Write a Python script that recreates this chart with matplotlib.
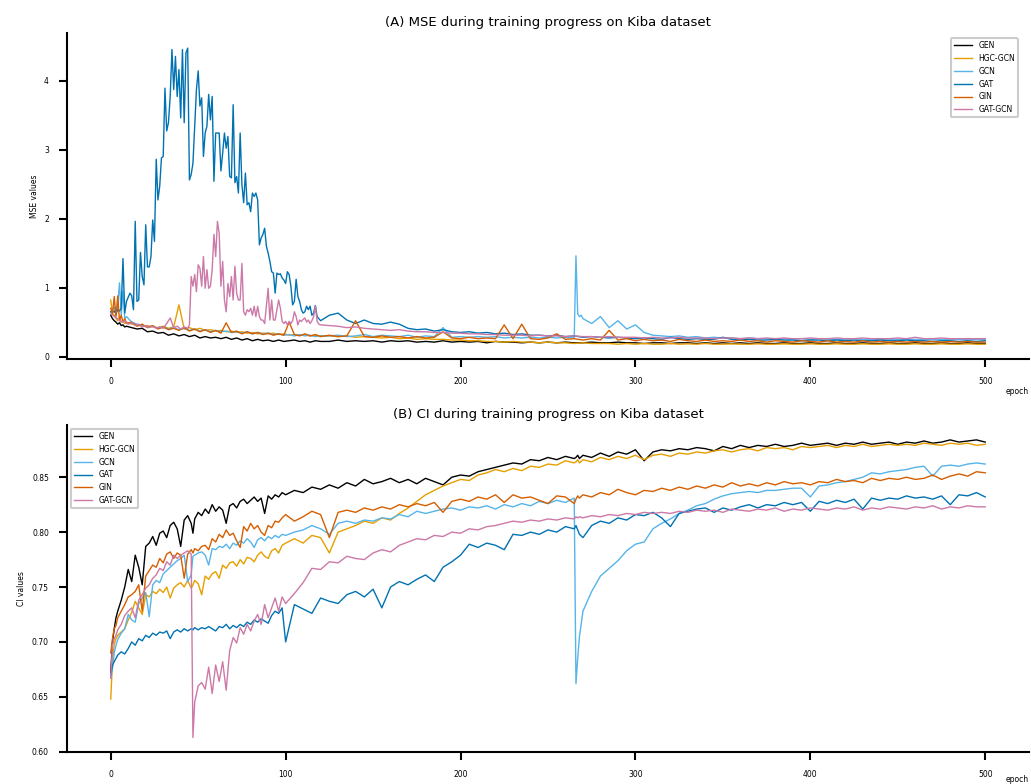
import matplotlib
matplotlib.use("Agg")
import matplotlib.pyplot as plt

MODELS = ["GEN", "HGC-GCN", "GCN", "GAT", "GIN", "GAT-GCN"]
COLORS = ["#000000", "#E69F00", "#56B4E9", "#0072B2", "#D55E00", "#CC79A7"]

# ---------------- MSE panel data ----------------
MSE_EPOCHS_LOW = list(range(0, 10)) + list(range(12, 121, 3)) + list(range(125, 501, 5))
MSE_EPOCHS_GCN = (list(range(0, 10)) + list(range(12, 121, 3)) + list(range(125, 266, 5))
                  + [266, 267, 268, 269] + list(range(270, 501, 5)))
MSE_EPOCHS_GAT = list(range(0, 120)) + list(range(120, 501, 5))
MSE_EPOCHS_GATGCN = list(range(0, 45, 2)) + list(range(45, 121)) + list(range(125, 501, 5))

mse_gen = [.60, .55, .52, .50, .47, .49, .45, .46, .43, .44,
           .42, .40, .41, .36, .37, .34, .35, .31, .33, .30,
           .32, .29, .31, .27, .29, .27, .28, .26, .28, .25,
           .27, .24, .26, .23, .25, .23, .24, .22, .24, .22,
           .23, .24, .22, .23, .21, .23, .22,
           .22, .24, .22, .23, .22, .23, .21, .23, .22, .23,
           .21, .22, .21, .23, .21, .22, .21, .22, .20, .22,
           .21, .21, .20, .21, .20, .21, .20, .21, .20, .20,
           .21, .20, .20, .21, .20, .20, .19, .20, .20, .19,
           .20, .20, .19, .20, .19, .20, .19, .20, .19, .20,
           .19, .19, .20, .19, .19, .20, .19, .19, .20, .19,
           .19, .20, .19, .19, .20, .19, .19, .20, .19, .19,
           .20, .19, .19, .20, .19, .19]

mse_hgc = [.82, .62, .60, .55, .52, .56, .50, .52, .48, .50,
           .47, .46, .44, .45, .43, .42, .44, .41, .43, .75,
           .40, .42, .39, .41, .38, .39, .37, .38, .36, .37,
           .35, .36, .34, .35, .33, .34, .33, .34, .32, .33,
           .31, .32, .31, .32, .30, .31, .30,
           .30, .29, .30, .28, .29, .28, .27, .28, .26, .27,
           .25, .26, .25, .25, .24, .24, .23, .23, .22, .22,
           .21, .22, .21, .21, .20, .21, .20, .20, .19, .20,
           .19, .19, .19, .18, .19, .18, .19, .18, .18, .19,
           .18, .185, .18, .19, .18, .18, .185, .18, .18, .185,
           .18, .18, .185, .18, .18, .185, .18, .18, .185, .18,
           .18, .185, .18, .18, .185, .18, .18, .185, .18, .18,
           .185, .18, .18, .185, .18, .18]

mse_gcn = [.65, .68, .72, .60, .75, 1.07, .60, .95, .55, .58,
           .50, .47, .45, .43, .44, .41, .43, .40, .42, .39,
           .41, .38, .40, .37, .39, .36, .38, .36, .37, .35,
           .36, .34, .36, .33, .35, .33, .34, .32, .33, .31,
           .32, .30, .32, .30, .31, .29, .30,
           .30, .31, .29, .30, .32, .29, .31, .30, .29, .31,
           .28, .30, .29, .42, .28, .29, .28, .29, .28, .29,
           .27, .28, .27, .28, .27, .28, .27, .28, .27,
           1.46, .62, .58, .60,
           .55, .48, .58, .42, .52, .40, .46, .35, .31, .30,
           .29, .30, .28, .29, .27, .28, .27, .27, .26, .27,
           .26, .26, .26, .26, .25, .26, .25, .26, .25, .25,
           .25, .26, .25, .25, .25, .25, .25, .25, .25, .25,
           .25, .25, .25, .25, .25, .25, .25]

mse_gat = [.65, .64, .66, .62, .68, .66, .70, 1.42, .63, .80,
           .86, .92, .88, .68, 1.96, .80, .82, 1.51, 1.16, 1.04,
           1.91, 1.30, 1.30, 1.45, 1.98, 1.67, 2.86, 2.27, 2.47, 2.88,
           2.90, 3.89, 3.27, 3.39, 3.77, 4.45, 3.87, 4.35, 3.77, 4.16,
           3.46, 4.45, 3.39, 4.40, 4.47, 2.56, 2.64, 2.80, 3.34, 3.87,
           4.14, 3.63, 3.75, 2.90, 3.24, 3.34, 3.80, 3.43, 3.77, 2.54,
           3.24, 3.24, 3.24, 2.69, 2.95, 3.24, 3.02, 3.19, 2.61, 2.59,
           3.65, 2.52, 2.61, 2.37, 3.24, 2.49, 2.23, 2.66, 2.20, 2.23,
           2.10, 2.37, 2.32, 2.37, 2.27, 1.62, 1.72, 1.77, 1.86, 1.60,
           1.50, 1.38, 1.23, 1.21, 0.92, 1.21, 1.19, 1.20, 1.14, 1.11,
           1.06, 1.23, 1.19, 1.02, 0.75, 0.80, 1.12, 0.87, 0.80, 0.68,
           0.63, 0.65, 0.73, 0.68, 0.73, 0.60, 0.63, 0.74, 0.58, 0.55,
           .52, .60, .63, .53, .48, .53, .48, .47, .50, .47,
           .41, .39, .40, .37, .39, .36, .35, .36, .34, .35,
           .33, .34, .32, .33, .31, .31, .30, .31, .29, .30,
           .28, .29, .28, .27, .28, .27, .26, .27, .26, .25,
           .28, .26, .25, .26, .25, .25, .28, .25, .24, .25,
           .24, .24, .25, .24, .24, .23, .24, .24, .23, .24,
           .23, .24, .23, .23, .24, .23, .23, .24, .23, .23,
           .22, .23, .23, .22, .23, .22, .23]

mse_gin = [.70, .62, .87, .58, .88, .52, .60, .50, .55, .48,
           .50, .44, .47, .42, .45, .40, .43, .39, .41, .38,
           .42, .37, .40, .36, .39, .35, .38, .34, .49, .35,
           .37, .33, .36, .33, .35, .32, .34, .31, .33, .31,
           .50, .32, .30, .33, .30, .32, .29,
           .31, .29, .30, .52, .29, .28, .30, .28, .29, .27,
           .29, .27, .28, .36, .27, .26, .28, .26, .27, .26,
           .46, .26, .47, .26, .25, .27, .33, .25, .26, .24,
           .26, .24, .38, .24, .26, .23, .25, .23, .24, .22,
           .25, .23, .22, .24, .22, .23, .22, .24, .22, .23,
           .21, .23, .22, .21, .23, .22, .21, .23, .21, .22,
           .21, .23, .21, .22, .21, .22, .21, .22, .21, .22,
           .21, .22, .21, .22, .21, .21]

mse_gatgcn = [.63, .58, .55, .50, .52, .47, .49, .45, .47, .43,
              .45, .42, .44, .41, .43, .41, .48, .56, .42, .44,
              .40, .43, .41,
              .46, 1.16, 1.02, 1.19, .94, 1.33, 1.28, 1.02, 1.45, .99,
              1.26, .99, 1.02, 1.26, 1.77, 1.45, 1.96, 1.79, 1.02, 1.38,
              .82, .65, 1.06, .87, 1.16, .82, 1.31, .92, .82, .82,
              1.35, .65, .60, .68, .65, .70, .60, .73, .58, .73,
              .58, .53, .53, .48, .73, .99, .53, .82, .53, .53,
              .68, .82, .70, .51, .48, .51, .46, .51, .48, .52,
              .65, .58, .46, .53, .51, .54, .56, .50, .53, .48,
              .52, .58, .73, .51, .47, .46,
              .45, .44, .42, .43, .41, .40, .39, .38, .39, .37,
              .36, .36, .35, .35, .34, .34, .33, .33, .32, .32,
              .31, .31, .31, .30, .31, .30, .30, .29, .30, .29,
              .29, .28, .29, .28, .28, .28, .27, .28, .27, .27,
              .28, .27, .27, .27, .26, .27, .27, .26, .27, .26,
              .27, .26, .27, .26, .26, .27, .26, .26, .27, .26,
              .26, .27, .26, .26, .26, .27, .26, .28, .26, .26,
              .27, .26, .26, .26, .26, .26]

# ---------------- CI panel data ----------------
CI_EPOCHS = ([0, 1, 2, 3, 4] + list(range(6, 47, 2)) + [47] + list(range(48, 101, 2))
             + list(range(105, 266, 5)) + [266, 267, 268] + list(range(270, 501, 5)))

ci_gen = [.672, .700, .712, .722, .728,
          .738, .750, .766, .755, .779, .768, .752, .787, .790, .796,
          .788, .799, .801, .795, .806, .809, .803, .787, .811, .815, .808,
          .799,
          .812, .818, .815, .821, .817, .825, .819, .823, .820, .808,
          .824, .826, .822, .828, .830, .826, .829, .832, .828, .831,
          .817, .833, .830, .834, .832, .836, .834,
          .838, .836, .841, .839, .843, .840, .845, .842, .848, .844,
          .846, .849, .845, .848, .844, .849, .846, .843, .850, .852,
          .851, .855, .857, .859, .861, .863, .862, .866, .865, .868,
          .866, .869, .867,
          .868, .870, .867,
          .870, .868, .872, .869, .873, .871, .875, .865, .873, .875,
          .874, .876, .875, .877, .876, .874, .878, .876, .879, .877,
          .879, .878, .880, .878, .879, .881, .879, .880, .881, .879,
          .881, .880, .882, .880, .881, .882, .880, .882, .881, .883,
          .881, .882, .884, .882, .883, .884, .882]

ci_hgc = [.648, .682, .698, .703, .706,
          .709, .712, .720, .727, .737, .731, .725, .743, .741, .746,
          .744, .748, .745, .750, .740, .749, .752, .754, .750, .756, .749,
          .752,
          .756, .753, .743, .760, .757, .762, .764, .758, .770, .767,
          .772, .773, .769, .775, .771, .777, .776, .773, .779, .782,
          .778, .776, .783, .785, .781, .788, .790,
          .794, .790, .797, .795, .781, .800, .803, .806, .810, .808,
          .813, .811, .817, .822, .828, .834, .838, .842, .845, .848,
          .847, .852, .854, .857, .855, .858, .856, .860, .859, .862,
          .861, .865, .863,
          .864, .866, .863,
          .866, .864, .868, .866, .869, .867, .870, .866, .870, .871,
          .869, .872, .871, .873, .872, .874, .875, .873, .875, .876,
          .874, .877, .876, .877, .875, .878, .877, .878, .879, .877,
          .879, .878, .880, .878, .879, .880, .879, .880, .879, .881,
          .880, .879, .881, .880, .881, .879, .880]

ci_gcn = [.667, .676, .690, .697, .702,
          .708, .712, .725, .720, .718, .735, .740, .745, .723, .752,
          .756, .754, .762, .765, .768, .771, .774, .776, .779, .755, .761,
          .778,
          .779, .781, .782, .779, .770, .785, .784, .787, .786, .789,
          .785, .790, .788, .792, .790, .794, .791, .786, .793, .795,
          .792, .796, .794, .797, .795, .798, .797,
          .800, .802, .806, .803, .798, .808, .810, .808, .811, .810,
          .813, .812, .816, .814, .819, .817, .819, .821, .822, .820,
          .823, .822, .824, .821, .825, .823, .826, .824, .828, .826,
          .829, .827, .831,
          .662, .685, .705,
          .728, .746, .760, .767, .774, .783, .789, .791, .803, .808,
          .812, .817, .820, .824, .826, .830, .833, .835, .836, .837,
          .836, .838, .838, .839, .840, .840, .832, .842, .843, .845,
          .846, .848, .850, .854, .853, .855, .856, .857, .859, .860,
          .851, .860, .861, .860, .862, .863, .862]

ci_gat = [.670, .679, .682, .685, .688,
          .691, .689, .694, .700, .697, .703, .701, .706, .704, .708,
          .706, .709, .708, .710, .703, .709, .711, .709, .712, .710, .712,
          .711,
          .713, .711, .713, .712, .714, .712, .710, .714, .713, .716,
          .712, .715, .713, .716, .714, .718, .716, .720, .718, .721,
          .719, .717, .724, .728, .726, .731, .700,
          .734, .730, .726, .740, .737, .735, .743, .746, .741, .748,
          .731, .750, .755, .752, .757, .761, .755, .768, .773, .779,
          .789, .786, .790, .788, .784, .798, .797, .800, .798, .802,
          .800, .805, .803,
          .806, .802, .798,
          .795, .806, .810, .808, .813, .811, .816, .815, .818, .813,
          .805, .817, .819, .821, .822, .818, .822, .820, .823, .825,
          .822, .825, .824, .827, .825, .827, .819, .828, .826, .829,
          .827, .830, .821, .831, .829, .831, .830, .833, .831, .832,
          .830, .833, .825, .834, .833, .836, .832]

ci_gin = [.690, .703, .712, .715, .722,
          .728, .734, .741, .743, .746, .752, .728, .760, .765, .770,
          .768, .776, .772, .780, .782, .776, .781, .779, .758, .780, .784,
          .781,
          .785, .783, .787, .788, .784, .794, .791, .798, .795, .802,
          .797, .799, .792, .786, .805, .801, .808, .803, .806, .800,
          .797, .806, .804, .810, .809, .813, .816,
          .810, .814, .819, .816, .795, .818, .820, .818, .822, .820,
          .823, .821, .825, .823, .826, .824, .827, .818, .828, .830,
          .828, .832, .830, .834, .827, .834, .831, .832, .829, .826,
          .833, .832, .826,
          .830, .833, .831,
          .834, .832, .836, .834, .839, .836, .834, .838, .837, .840,
          .838, .841, .839, .842, .840, .843, .841, .845, .842, .844,
          .842, .845, .843, .846, .844, .845, .843, .846, .845, .848,
          .846, .847, .845, .849, .847, .849, .848, .850, .848, .849,
          .852, .848, .851, .853, .851, .855, .854]

ci_gatgcn = [.667, .697, .703, .706, .711,
             .716, .724, .728, .731, .722, .738, .743, .749, .752, .758,
             .761, .767, .765, .773, .770, .779, .776, .779, .781, .783, .780,
             .613,
             .645, .660, .663, .657, .677, .653, .679, .664, .682, .656,
             .692, .704, .699, .713, .707, .716, .710, .719, .725, .716,
             .734, .722, .731, .740, .728, .741, .735,
             .744, .754, .767, .766, .773, .772, .778, .776, .775, .781,
             .784, .782, .788, .791, .794, .793, .797, .796, .800, .799,
             .803, .802, .805, .806, .808, .810, .809, .811, .810, .812,
             .811, .813, .812,
             .814, .813, .814,
             .813, .815, .814, .816, .815, .817, .816, .818, .817, .818,
             .817, .819, .818, .820, .819, .820, .818, .821, .820, .819,
             .821, .820, .822, .819, .821, .820, .822, .821, .820, .822,
             .821, .823, .820, .822, .821, .823, .822, .821, .823, .822,
             .824, .821, .823, .822, .824, .823, .823]

MSE_SERIES = [(MSE_EPOCHS_LOW, mse_gen), (MSE_EPOCHS_LOW, mse_hgc), (MSE_EPOCHS_GCN, mse_gcn),
              (MSE_EPOCHS_GAT, mse_gat), (MSE_EPOCHS_LOW, mse_gin), (MSE_EPOCHS_GATGCN, mse_gatgcn)]
CI_SERIES = [ci_gen, ci_hgc, ci_gcn, ci_gat, ci_gin, ci_gatgcn]

TICK_FS = 5.5


def style(ax, yticks, ylabel, title, xlabelpad):
    for s in ("top", "right"):
        ax.spines[s].set_visible(False)
    for s in ("left", "bottom"):
        ax.spines[s].set_linewidth(1.5)
    ax.tick_params(direction="out", length=6, width=1.5, labelsize=TICK_FS, pad=7)
    ax.set_xticks([0, 100, 200, 300, 400, 500])
    ax.set_yticks(yticks)
    ax.set_ylabel(ylabel, fontsize=TICK_FS)
    ax.set_xlabel("epoch", fontsize=TICK_FS, loc="right", labelpad=xlabelpad)
    ax.set_title(title, fontsize=9.5, pad=5)


fig = plt.figure(figsize=(10.31, 7.84), dpi=100)
ax1 = fig.add_axes([0.065, 0.5421, 0.933, 0.4154])
ax2 = fig.add_axes([0.065, 0.0404, 0.933, 0.4175])

for name, color, (ep, vals) in zip(MODELS, COLORS, MSE_SERIES):
    ax1.plot(ep, vals, color=color, lw=1.0, label=name)
for name, color, vals in zip(MODELS, COLORS, CI_SERIES):
    ax2.plot(CI_EPOCHS, vals, color=color, lw=1.0, label=name)

style(ax1, [0, 1, 2, 3, 4], "MSE values", "(A) MSE during training progress on Kiba dataset", 1)
style(ax2, [0.60, 0.65, 0.70, 0.75, 0.80, 0.85], "CI values",
      "(B) CI during training progress on Kiba dataset", -3.5)
ax2.set_yticklabels(["0.60", "0.65", "0.70", "0.75", "0.80", "0.85"])

leg_kw = dict(fontsize=TICK_FS, handlelength=2.4, frameon=True, fancybox=True,
              framealpha=1, edgecolor="#cccccc")
l1 = ax1.legend(loc="upper right", bbox_to_anchor=(0.9886, 0.9856), borderaxespad=0, **leg_kw)
l2 = ax2.legend(loc="upper left", **leg_kw)
for lg in (l1, l2):
    lg.get_frame().set_linewidth(1.5)

fig.savefig("out.png", dpi=100)
